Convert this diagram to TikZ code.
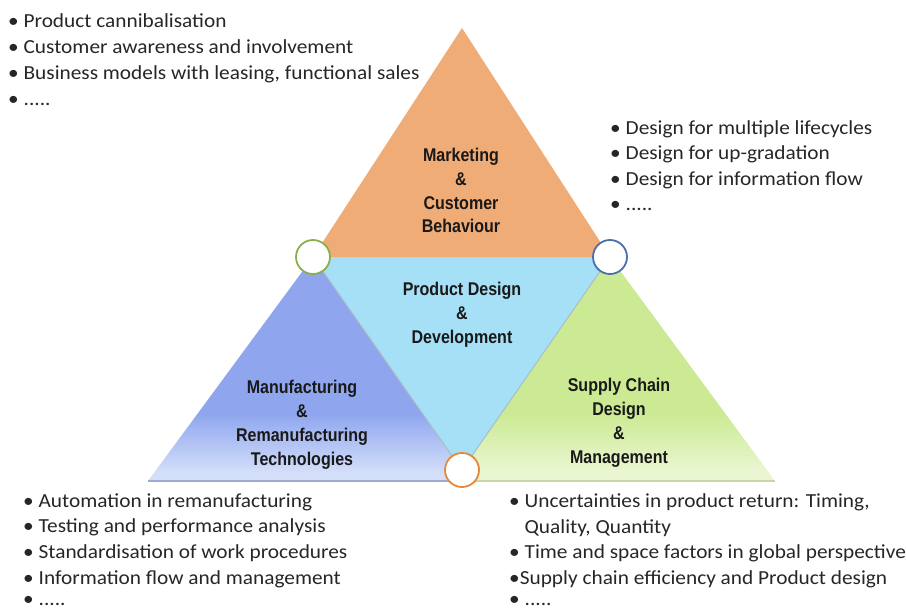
\documentclass[tikz,border=0pt]{standalone}
\usepackage{fontspec}
\setmainfont[FakeStretch=1.07]{Carlito}
\newfontfamily\labelfont[FakeStretch=0.87]{Liberation Sans}

\definecolor{mktorange}{HTML}{F0AC76}
\definecolor{pddcyan}{HTML}{A6E0F6}
\definecolor{mfgblue}{HTML}{8FA6EE}
\definecolor{mfgpale}{HTML}{D3DEF9}
\definecolor{scmgreen}{HTML}{CCEA94}
\definecolor{scmpale}{HTML}{EAF6D2}
\definecolor{rimgreen}{HTML}{8DAE4C}
\definecolor{rimblue}{HTML}{4B6FAE}
\definecolor{rimorange}{HTML}{E8873A}

% fades towards the base of the two lower triangles
\pgfdeclareverticalshading{mfgfade}{100bp}{color(0bp)=(mfgpale); color(27bp)=(mfgpale); color(40bp)=(mfgblue); color(100bp)=(mfgblue)}
\pgfdeclareverticalshading{scmfade}{100bp}{color(0bp)=(scmpale); color(27bp)=(scmpale); color(40bp)=(scmgreen); color(100bp)=(scmgreen)}

\begin{document}
\begin{tikzpicture}[x=1bp,y=-1bp,
  tri label/.style={font=\labelfont\bfseries\fontsize{18.5}{24}\selectfont, align=center, anchor=base, inner sep=0pt, text=black!90},
  bullet line/.style={font=\fontsize{20}{26}\selectfont, anchor=base west, inner sep=0pt, text=black!85},
  joint/.style={circle, draw, line width=1.8bp, fill=white, minimum size=34bp, inner sep=0pt}]
\useasboundingbox (0,0) rectangle (906,609);

% corners
\coordinate (apex) at (462,28);
\coordinate (jl) at (313,257);
\coordinate (jr) at (610,257);
\coordinate (jb) at (462,470);
\coordinate (bl) at (148,481);
\coordinate (br) at (775,481);

% four triangles
\fill[mktorange] (apex) -- (jl) -- (jr) -- cycle;
\shade[shading=mfgfade] (jl) -- (bl) -- (470,481) -- (jb) -- cycle;
\shade[shading=scmfade] (jr) -- (br) -- (455,481) -- (jb) -- cycle;
\draw[mfgblue!80!black!70, line width=1.2bp] (bl) -- (470,481);
\draw[scmgreen!80!black!60, line width=1.2bp] (455,481) -- (br);
\fill[pddcyan] (jl) -- (jr) -- (jb) -- cycle;
\draw[pddcyan!60!black!55, line width=1bp] (jl) -- (jb) -- (jr);

% joints
\node[joint, draw=rimgreen] (jointl) at (jl) {};
\node[joint, draw=rimblue] (jointr) at (jr) {};
\node[joint, draw=rimorange] (jointb) at (jb) {};

% labels (placed at the baseline of their last line)
\node[tri label] (mkt) at (461,233) {Marketing\\\&\\Customer\\Behaviour};
\node[tri label] (pdd) at (462,343) {Product Design\\\&\\Development};
\node[tri label] (mfg) at (302,465) {Manufacturing\\\&\\Remanufacturing\\Technologies};
\node[tri label] (scm) at (619,463) {Supply Chain\\Design\\\&\\Management};

% bullet lists
\node[bullet line] (mkt1) at (8,28) {• Product cannibalisation};
\node[bullet line] (mkt2) at (8,54) {• Customer awareness and involvement};
\node[bullet line] (mkt3) at (8,80) {• Business models with leasing, functional sales};
\node[bullet line] (mkt4) at (8,106) {• .....};

\node[bullet line] (pdd1) at (610,135) {• Design for multiple lifecycles};
\node[bullet line] (pdd2) at (610,160) {• Design for up-gradation};
\node[bullet line] (pdd3) at (610,186) {• Design for information flow};
\node[bullet line] (pdd4) at (610,211) {• .....};

\node[bullet line] (mfg1) at (23,507) {• Automation in remanufacturing};
\node[bullet line] (mfg2) at (23,532) {• Testing and performance analysis};
\node[bullet line] (mfg3) at (23,558) {• Standardisation of work procedures};
\node[bullet line] (mfg4) at (23,584) {• Information flow and management};
\node[bullet line] (mfg5) at (23,605) {• .....};

\node[bullet line] (scm1) at (509,507) {• Uncertainties in product return: Timing,};
\node[bullet line] (scm2) at (509,533) {\phantom{• }Quality, Quantity};
\node[bullet line] (scm3) at (509,558) {• Time and space factors in global perspective};
\node[bullet line] (scm4) at (509,584) {•Supply chain efficiency and Product design};
\node[bullet line] (scm5) at (509,605) {• .....};
\end{tikzpicture}
\end{document}
